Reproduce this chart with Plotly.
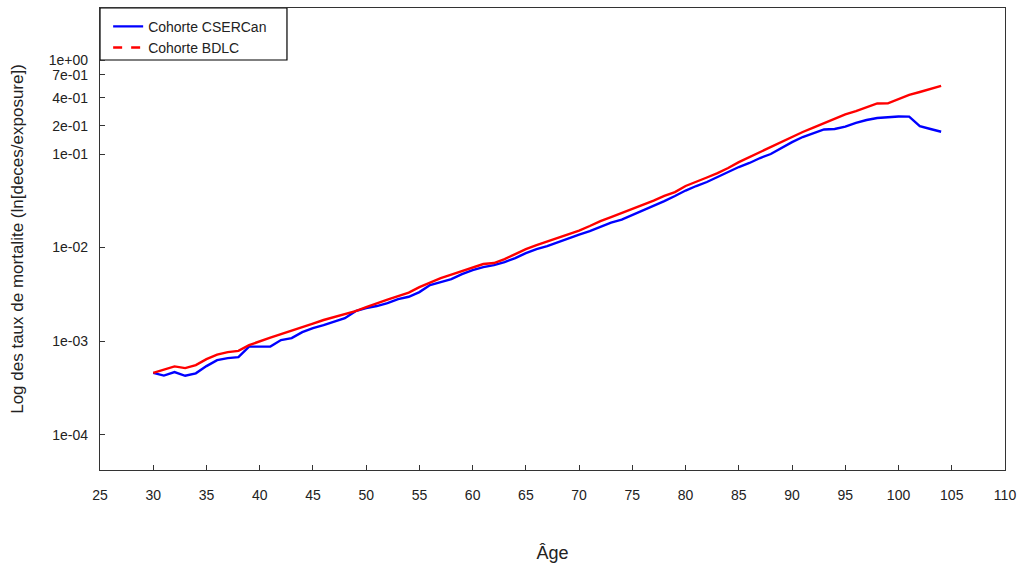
import plotly.graph_objects as go

ages = list(range(30, 105))

cserc = [4.58e-4, 4.28e-4, 4.66e-4, 4.26e-4, 4.52e-4, 5.40e-4, 6.26e-4, 6.58e-4, 6.75e-4, 8.73e-4,
         8.73e-4, 8.73e-4, 1.025e-3, 1.077e-3, 1.248e-3, 1.377e-3, 1.48e-3, 1.60e-3, 1.76e-3, 2.09e-3,
         2.25e-3, 2.37e-3, 2.55e-3, 2.81e-3, 2.98e-3, 3.34e-3, 3.97e-3, 4.28e-3, 4.60e-3, 5.21e-3,
         5.74e-3, 6.18e-3, 6.50e-3, 7.00e-3, 7.73e-3, 8.73e-3, 9.64e-3, 1.038e-2, 1.145e-2, 1.264e-2,
         1.377e-2, 1.50e-2, 1.66e-2, 1.85e-2, 1.99e-2, 2.23e-2, 2.46e-2, 2.78e-2, 3.14e-2, 3.56e-2,
         4.07e-2, 4.55e-2, 5.02e-2, 5.68e-2, 6.41e-2, 7.26e-2, 8.02e-2, 9.06e-2, 0.100, 0.116,
         0.134, 0.152, 0.168, 0.183, 0.185, 0.196, 0.215, 0.231, 0.243, 0.249,
         0.252, 0.251, 0.199, 0.185, 0.173]

bdlc = [4.58e-4, 4.96e-4, 5.36e-4, 5.14e-4, 5.54e-4, 6.42e-4, 7.17e-4, 7.62e-4, 7.87e-4, 9.06e-4,
        1.00e-3, 1.087e-3, 1.19e-3, 1.29e-3, 1.41e-3, 1.54e-3, 1.68e-3, 1.81e-3, 1.95e-3, 2.09e-3,
        2.31e-3, 2.55e-3, 2.78e-3, 3.03e-3, 3.30e-3, 3.78e-3, 4.22e-3, 4.72e-3, 5.14e-3, 5.61e-3,
        6.18e-3, 6.67e-3, 6.83e-3, 7.54e-3, 8.51e-3, 9.64e-3, 1.064e-2, 1.16e-2, 1.26e-2, 1.39e-2,
        1.52e-2, 1.70e-2, 1.92e-2, 2.12e-2, 2.34e-2, 2.58e-2, 2.85e-2, 3.18e-2, 3.56e-2, 3.92e-2,
        4.55e-2, 5.02e-2, 5.61e-2, 6.26e-2, 7.08e-2, 8.20e-2, 9.29e-2, 0.1064, 0.1203, 0.136,
        0.154, 0.172, 0.192, 0.215, 0.240, 0.266, 0.288, 0.318, 0.347, 0.348,
        0.388, 0.428, 0.460, 0.496, 0.534]

y_tickvals = [1e-4, 1e-3, 1e-2, 1e-1, 2e-1, 4e-1, 7e-1, 1.0]
y_ticktext = ["1e-04", "1e-03", "1e-02", "1e-01", "2e-01", "4e-01", "7e-01", "1e+00"]
x_tickvals = list(range(25, 111, 5))

font = "Liberation Sans, Arial, sans-serif"
txt = "#222222"

fig = go.Figure()
fig.add_trace(go.Scatter(x=ages, y=cserc, mode="lines", name="Cohorte CSERCan",
                         line=dict(color="#0000FF", width=2.4)))
fig.add_trace(go.Scatter(x=ages, y=bdlc, mode="lines", name="Cohorte BDLC", showlegend=False,
                         line=dict(color="#FF0000", width=2.4)))
fig.add_trace(go.Scatter(x=[None], y=[None], mode="lines", name="Cohorte BDLC",
                         line=dict(color="#FF0000", width=2.4, dash="dash")))

# legend frame (box around the legend entries)
fig.add_shape(type="rect", xref="paper", yref="paper",
              x0=0, x1=0.2066, y0=0.8874, y1=1.0,
              line=dict(color="black", width=1.2), fillcolor="white", layer="below")

fig.update_layout(
    width=1018, height=564,
    margin=dict(l=100, r=13, t=8, b=94),
    paper_bgcolor="white", plot_bgcolor="white",
    font=dict(family=font, size=14, color=txt),
    showlegend=True,
    legend=dict(x=0.009, y=0.994, xanchor="left", yanchor="top",
                borderwidth=0, bgcolor="rgba(0,0,0,0)",
                font=dict(family=font, size=14, color=txt),
                itemwidth=30, tracegroupgap=0),
    xaxis=dict(range=[25, 110], tickvals=x_tickvals, ticks="inside", ticklen=5,
               tickcolor="#333333", showline=True, linecolor="#333333", linewidth=1.2,
               mirror=True, showgrid=False, zeroline=False, automargin=False,
               ticklabelstandoff=12,
               tickfont=dict(family=font, size=14, color=txt),
               title=dict(text="Âge", font=dict(family=font, size=18, color=txt), standoff=44)),
    yaxis=dict(type="log", range=[-4.378, 0.561], tickvals=y_tickvals, ticktext=y_ticktext,
               ticks="inside", ticklen=5, tickcolor="#333333", showline=True,
               linecolor="#333333", linewidth=1.2, mirror=True, showgrid=False, zeroline=False,
               automargin=False, ticklabelstandoff=8,
               tickfont=dict(family=font, size=14, color=txt),
               title=dict(text="Log des taux de mortalite (ln[deces/exposure])",
                          font=dict(family=font, size=17, color=txt), standoff=20)),
)

fig.write_html("out.html")
